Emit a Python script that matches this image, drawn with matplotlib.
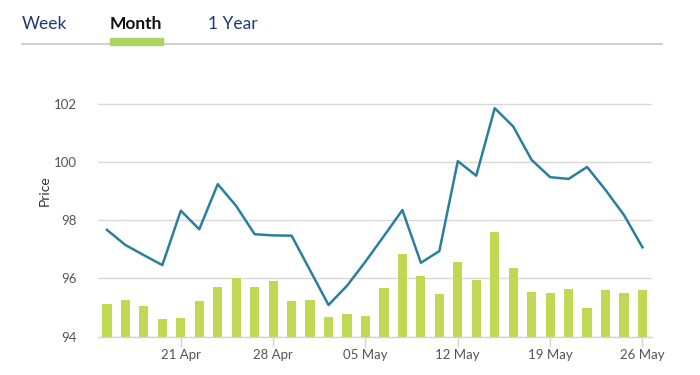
import matplotlib
matplotlib.use("Agg")
import matplotlib.pyplot as plt
from matplotlib.lines import Line2D
from matplotlib.patches import Rectangle
import numpy as np

plt.rcParams['font.family'] = ['Lato', 'DejaVu Sans']

# Trading days (index positions) and labels
tick_labels = ["21 Apr", "28 Apr", "05 May", "12 May", "19 May", "26 May"]
tick_positions = [4, 9, 14, 19, 24, 29]

price = [97.67, 97.15, 96.80, 96.46, 98.33, 97.69, 99.24, 98.49, 97.52, 97.48,
         97.47, 96.28, 95.09, 95.75, 96.58, 97.46, 98.35, 96.54, 96.94, 100.03,
         99.53, 101.85, 101.22, 100.07, 99.48, 99.42, 99.83, 99.04, 98.18, 97.07]

bar_tops = [95.11, 95.26, 95.07, 94.62, 94.65, 95.23, 95.72, 96.02, 95.72, 95.91,
            95.23, 95.26, 94.69, 94.77, 94.72, 95.68, 96.85, 96.10, 95.46, 96.56,
            95.95, 97.61, 96.36, 95.54, 95.49, 95.64, 94.99, 95.60, 95.49, 95.60]

y_ticks = [94, 96, 98, 100, 102]
tabs = ["Week", "Month", "1 Year"]

W, H = 700, 375
fig = plt.figure(figsize=(7, 3.75), dpi=100)

ax = fig.add_axes([97.7 / W, 1 - 336.7 / H, (651.7 - 97.7) / W, (336.7 - 45) / H])
x = np.arange(len(price))
base = 94
ax.bar(x, np.array(bar_tops) - base, bottom=base, width=0.5, color="#c0d955", zorder=2)
ax.plot(x, price, color="#2a7f9e", linewidth=1.8, zorder=3)

ax.set_xlim(-0.5, len(price) - 0.5)
ax.set_ylim(94, 104.02)
ax.set_yticks(y_ticks)
ax.set_yticklabels([str(v) for v in y_ticks])
ax.set_xticks(tick_positions)
ax.set_xticklabels(tick_labels)
ax.grid(axis='y', color="#d8d8d8", linewidth=1.0, zorder=0)
ax.set_axisbelow(True)
for s in ["top", "right", "left"]:
    ax.spines[s].set_visible(False)
ax.spines["bottom"].set_color("#cfd4dc")
ax.spines["bottom"].set_linewidth(1.0)
ax.tick_params(axis='y', length=0, pad=15, labelsize=9.5, labelcolor="#555555")
ax.tick_params(axis='x', length=7, width=1, color="#cfd4dc", pad=2,
               labelsize=9.5, labelcolor="#555555")
ax.set_ylabel("Price", fontsize=10, color="#333333", labelpad=2)

# Tabs header
tab_x = [21.7, 110, 208]
for t, tx in zip(tabs, tab_x):
    bold = (t == "Month")
    fig.text(tx / W, 1 - 29 / H, t, fontsize=12.5,
             fontweight="bold" if bold else "normal",
             color="#111111" if bold else "#1f3a73", ha="left", va="baseline")

fig.add_artist(Line2D([22 / W, 662 / W], [1 - 44 / H, 1 - 44 / H],
                      color="#c3c7d0", linewidth=1.2, transform=fig.transFigure,
                      zorder=1))
fig.add_artist(Rectangle((110 / W, 1 - 44.5 / H), 53 / W, 6 / H,
                         color="#a9d55e", transform=fig.transFigure, zorder=5))

fig.savefig("out.png", dpi=100)
